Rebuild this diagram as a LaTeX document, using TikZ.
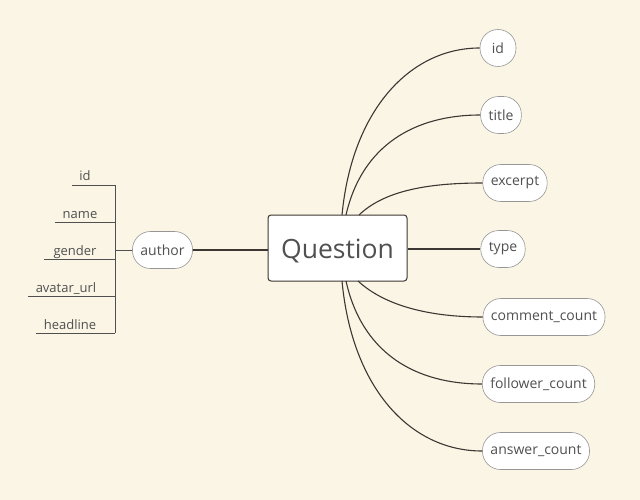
\documentclass[tikz,border=0pt]{standalone}
\usepackage{fontspec}
\setmainfont{Open Sans}
\definecolor{bg}{RGB}{251,245,229}
\definecolor{edge}{RGB}{60,55,50}
\definecolor{pillborder}{RGB}{150,150,150}
\definecolor{txt}{RGB}{80,80,80}
\begin{document}
\begin{tikzpicture}[x=1pt,y=-1pt,
  pill/.style={draw=pillborder, line width=0.6pt, fill=white, rounded corners=18pt,
    minimum height=37pt, minimum width=36pt, inner xsep=8pt, text=txt,
    font=\fontsize{14}{16}\selectfont},
  central/.style={draw=edge, line width=1pt, fill=white, rounded corners=3pt,
    minimum width=139pt, minimum height=66pt, text=txt, text height=26pt, text depth=5pt,
    font=\fontsize{26.5}{30}\selectfont},
  conn/.style={draw=edge, line width=1.1pt},
  leaf/.style={text=txt, inner sep=0pt, anchor=base, font=\fontsize{13}{15}\selectfont},
  thin/.style={draw=txt, line width=0.8pt}
]
\fill[bg] (0,0) rectangle (640,500);
\useasboundingbox (0,0) rectangle (640,500);

% central node
\node[central] (Q) at (337.5,248) {Question};

% right nodes
\node[pill] (rid) at (498,48) {id};
\node[pill] (rtitle) at (501,115) {title};
\node[pill] (rexc) at (515,183) {excerpt};
\node[pill] (rtype) at (503,249) {type};
\node[pill] (rcom) at (544,317) {comment\_count};
\node[pill] (rfol) at (538.5,384) {follower\_count};
\node[pill] (rans) at (536,451) {answer\_count};

% start points on Question box
\coordinate (s1) at (342,215);
\coordinate (s2) at (346,215);
\coordinate (s3) at (359,215);
\coordinate (s5) at (358,281);
\coordinate (s6) at (346,281);
\coordinate (s7) at (342,281);

\draw[conn] (s1) .. controls (352,110) and (410,48) .. (rid.west);
\draw[conn] (s2) .. controls (362,145) and (415,115) .. (rtitle.west);
\draw[conn] (s3) .. controls (385,190) and (430,183) .. (rexc.west);
\draw[conn] (Q.east |- rtype.west) -- (rtype.west);
\draw[conn] (s5) .. controls (385,306) and (430,317) .. (rcom.west);
\draw[conn] (s6) .. controls (362,353) and (415,384) .. (rfol.west);
\draw[conn] (s7) .. controls (352,388) and (410,451) .. (rans.west);

% author
\node[pill] (auth) at (162.5,250) {author};
\draw[conn] (auth.east) -- (Q.west |- auth.east);

% bus
\coordinate (btop) at (115,185);
\coordinate (bbot) at (115,333);
\coordinate (bmid) at (115,250);
\draw[thin] (btop) -- (bbot);
\draw[thin] (bmid) -- (auth.west);

% leaves
\node[leaf] (lid) at (85,181) {id};
\node[leaf] (lname) at (80,218) {name};
\node[leaf] (lgen) at (75,255) {gender};
\node[leaf] (lav) at (66,292) {avatar\_url};
\node[leaf] (lhead) at (70,329) {headline};

\coordinate (e1) at (72,185);
\coordinate (e2) at (55,222);
\coordinate (e3) at (44,259);
\coordinate (e4) at (28,296);
\coordinate (e5) at (36,333);

\draw[thin] (e1) -- (btop);
\draw[thin] (e2) -- (e2 -| btop);
\draw[thin] (e3) -- (e3 -| btop);
\draw[thin] (e4) -- (e4 -| btop);
\draw[thin] (e5) -- (bbot);
\end{tikzpicture}
\end{document}
